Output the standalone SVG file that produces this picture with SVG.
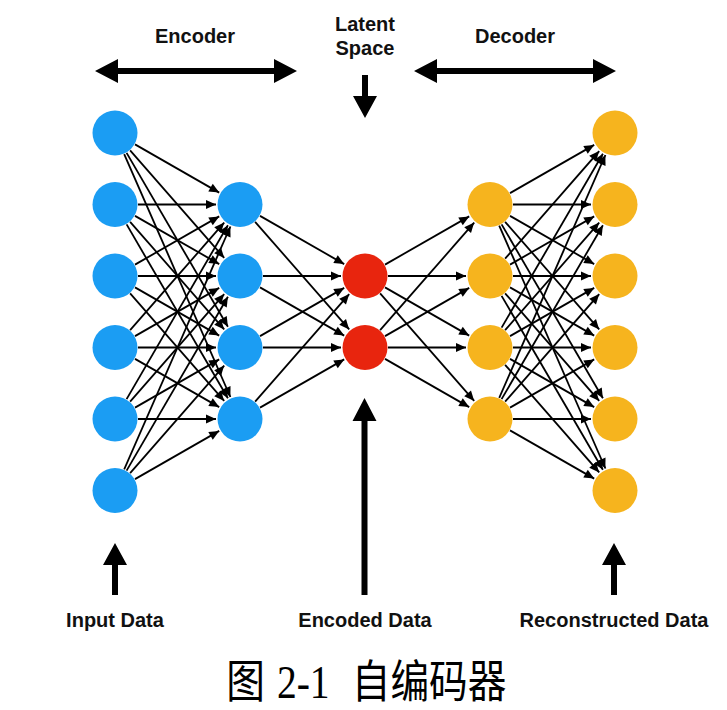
<svg xmlns="http://www.w3.org/2000/svg" width="727" height="710" viewBox="0 0 727 710">
<style>
.lbl{font-family:"Liberation Sans",Arial,"Noto Sans",sans-serif;font-weight:bold;font-size:20px;fill:#111;text-anchor:middle}
.cap{font-family:"Liberation Serif","Noto Sans CJK SC",serif;font-size:45px;fill:#000}
.e line{stroke:#000;stroke-width:1.8;marker-end:url(#ah)}
.big{fill:#000}
.enc{fill:#1B9DF3}
.lat{fill:#E8250E}
.dec{fill:#F6B41E}
</style>
<defs>
<marker id="ah" markerUnits="userSpaceOnUse" markerWidth="11" markerHeight="9" refX="10" refY="4.5" orient="auto" overflow="visible">
<path d="M0,0 L10,4.5 L0,9 z" fill="#000"/>
</marker>
</defs>
<rect width="727" height="710" fill="#fff"/>

<g id="labels">
<text class="lbl" x="195" y="43">Encoder</text>
<text class="lbl" x="365" y="31">Latent</text>
<text class="lbl" x="365" y="55">Space</text>
<text class="lbl" x="515" y="43">Decoder</text>
<text class="lbl" x="115" y="627">Input Data</text>
<text class="lbl" x="365" y="627">Encoded Data</text>
<text class="lbl" x="614" y="627">Reconstructed Data</text>
</g>

<g id="big-arrows" class="big">
<path d="M95,71 L118,59 L118,68 L274,68 L274,59 L297,71 L274,83 L274,74 L118,74 L118,83 Z"/>
<path d="M414,71 L437,59 L437,68 L593,68 L593,59 L616,71 L593,83 L593,74 L437,74 L437,83 Z"/>
<path d="M362,75 L368,75 L368,96 L377,96 L365,118 L353,96 L362,96 Z"/>
<path d="M115,543 L127,565 L118,565 L118,595 L112,595 L112,565 L103,565 Z"/>
<path d="M364.5,398 L376.5,421 L367.5,421 L367.5,595 L361.5,595 L361.5,421 L352.5,421 Z"/>
<path d="M614,543 L626,565 L617,565 L617,595 L611,595 L611,565 L602,565 Z"/>
</g>

<g id="connectors" class="e">
<line x1="135" y1="144.4" x2="219.2" y2="192.6"/>
<line x1="130.1" y1="150.3" x2="224.2" y2="257.9"/>
<line x1="126.6" y1="152.9" x2="227.9" y2="326.8"/>
<line x1="124.2" y1="154.1" x2="230.4" y2="397"/>
<line x1="138" y1="204.5" x2="216" y2="204.5"/>
<line x1="135" y1="215.9" x2="219.2" y2="264.1"/>
<line x1="130.1" y1="221.8" x2="224.2" y2="329.4"/>
<line x1="126.6" y1="224.4" x2="227.9" y2="398.3"/>
<line x1="135" y1="264.6" x2="219.2" y2="216.4"/>
<line x1="138" y1="276" x2="216" y2="276"/>
<line x1="135" y1="287.4" x2="219.2" y2="335.6"/>
<line x1="130.1" y1="293.3" x2="224.2" y2="400.9"/>
<line x1="130.1" y1="330.2" x2="224.2" y2="222.6"/>
<line x1="135" y1="336.1" x2="219.2" y2="287.9"/>
<line x1="138" y1="347.5" x2="216" y2="347.5"/>
<line x1="135" y1="358.9" x2="219.2" y2="407.1"/>
<line x1="126.6" y1="399.1" x2="227.9" y2="225.2"/>
<line x1="130.1" y1="401.7" x2="224.2" y2="294.1"/>
<line x1="135" y1="407.6" x2="219.2" y2="359.4"/>
<line x1="138" y1="419" x2="216" y2="419"/>
<line x1="124.2" y1="469.4" x2="230.4" y2="226.5"/>
<line x1="126.6" y1="470.6" x2="227.9" y2="296.7"/>
<line x1="130.1" y1="473.2" x2="224.2" y2="365.6"/>
<line x1="135" y1="479.1" x2="219.2" y2="430.9"/>

<line x1="260" y1="215.9" x2="344.2" y2="264.1"/>
<line x1="255.1" y1="221.8" x2="349.2" y2="329.4"/>
<line x1="263" y1="276" x2="341" y2="276"/>
<line x1="260" y1="287.4" x2="344.2" y2="335.6"/>
<line x1="260" y1="336.1" x2="344.2" y2="287.9"/>
<line x1="263" y1="347.5" x2="341" y2="347.5"/>
<line x1="255.1" y1="401.7" x2="349.2" y2="294.1"/>
<line x1="260" y1="407.6" x2="344.2" y2="359.4"/>

<line x1="385" y1="264.6" x2="469.2" y2="216.4"/>
<line x1="388" y1="276" x2="466" y2="276"/>
<line x1="385" y1="287.4" x2="469.2" y2="335.6"/>
<line x1="380.1" y1="293.3" x2="474.2" y2="400.9"/>
<line x1="380.1" y1="330.2" x2="474.2" y2="222.6"/>
<line x1="385" y1="336.1" x2="469.2" y2="287.9"/>
<line x1="388" y1="347.5" x2="466" y2="347.5"/>
<line x1="385" y1="358.9" x2="469.2" y2="407.1"/>

<line x1="510" y1="193.1" x2="594.2" y2="144.9"/>
<line x1="513" y1="204.5" x2="591" y2="204.5"/>
<line x1="510" y1="215.9" x2="594.2" y2="264.1"/>
<line x1="505.1" y1="221.8" x2="599.2" y2="329.4"/>
<line x1="501.6" y1="224.4" x2="602.9" y2="398.3"/>
<line x1="499.2" y1="225.6" x2="605.4" y2="468.5"/>
<line x1="505.1" y1="258.7" x2="599.2" y2="151.1"/>
<line x1="510" y1="264.6" x2="594.2" y2="216.4"/>
<line x1="513" y1="276" x2="591" y2="276"/>
<line x1="510" y1="287.4" x2="594.2" y2="335.6"/>
<line x1="505.1" y1="293.3" x2="599.2" y2="400.9"/>
<line x1="501.6" y1="295.9" x2="602.9" y2="469.8"/>
<line x1="501.6" y1="327.6" x2="602.9" y2="153.7"/>
<line x1="505.1" y1="330.2" x2="599.2" y2="222.6"/>
<line x1="510" y1="336.1" x2="594.2" y2="287.9"/>
<line x1="513" y1="347.5" x2="591" y2="347.5"/>
<line x1="510" y1="358.9" x2="594.2" y2="407.1"/>
<line x1="505.1" y1="364.8" x2="599.2" y2="472.4"/>
<line x1="499.2" y1="397.9" x2="605.4" y2="155"/>
<line x1="501.6" y1="399.1" x2="602.9" y2="225.2"/>
<line x1="505.1" y1="401.7" x2="599.2" y2="294.1"/>
<line x1="510" y1="407.6" x2="594.2" y2="359.4"/>
<line x1="513" y1="419" x2="591" y2="419"/>
<line x1="510" y1="430.4" x2="594.2" y2="478.6"/>
</g>

<g id="input-layer" class="enc">
<g id="in1"><circle cx="115" cy="133" r="22.5"/></g>
<g id="in2"><circle cx="115" cy="204.5" r="22.5"/></g>
<g id="in3"><circle cx="115" cy="276" r="22.5"/></g>
<g id="in4"><circle cx="115" cy="347.5" r="22.5"/></g>
<g id="in5"><circle cx="115" cy="419" r="22.5"/></g>
<g id="in6"><circle cx="115" cy="490.5" r="22.5"/></g>
</g>
<g id="encoder-layer" class="enc">
<g id="h1"><circle cx="240" cy="204.5" r="22.5"/></g>
<g id="h2"><circle cx="240" cy="276" r="22.5"/></g>
<g id="h3"><circle cx="240" cy="347.5" r="22.5"/></g>
<g id="h4"><circle cx="240" cy="419" r="22.5"/></g>
</g>
<g id="latent-layer" class="lat">
<g id="z1"><circle cx="365" cy="276" r="22.5"/></g>
<g id="z2"><circle cx="365" cy="347.5" r="22.5"/></g>
</g>
<g id="decoder-layer" class="dec">
<g id="d1"><circle cx="490" cy="204.5" r="22.5"/></g>
<g id="d2"><circle cx="490" cy="276" r="22.5"/></g>
<g id="d3"><circle cx="490" cy="347.5" r="22.5"/></g>
<g id="d4"><circle cx="490" cy="419" r="22.5"/></g>
</g>
<g id="output-layer" class="dec">
<g id="out1"><circle cx="615" cy="133" r="22.5"/></g>
<g id="out2"><circle cx="615" cy="204.5" r="22.5"/></g>
<g id="out3"><circle cx="615" cy="276" r="22.5"/></g>
<g id="out4"><circle cx="615" cy="347.5" r="22.5"/></g>
<g id="out5"><circle cx="615" cy="419" r="22.5"/></g>
<g id="out6"><circle cx="615" cy="490.5" r="22.5"/></g>
</g>

<g id="caption">
<text class="cap" transform="translate(0,698) scale(0.86,1)"><tspan x="263">图 </tspan><tspan x="322" font-size="46">2-1 </tspan><tspan x="409">自编码器</tspan></text>
</g>
</svg>
